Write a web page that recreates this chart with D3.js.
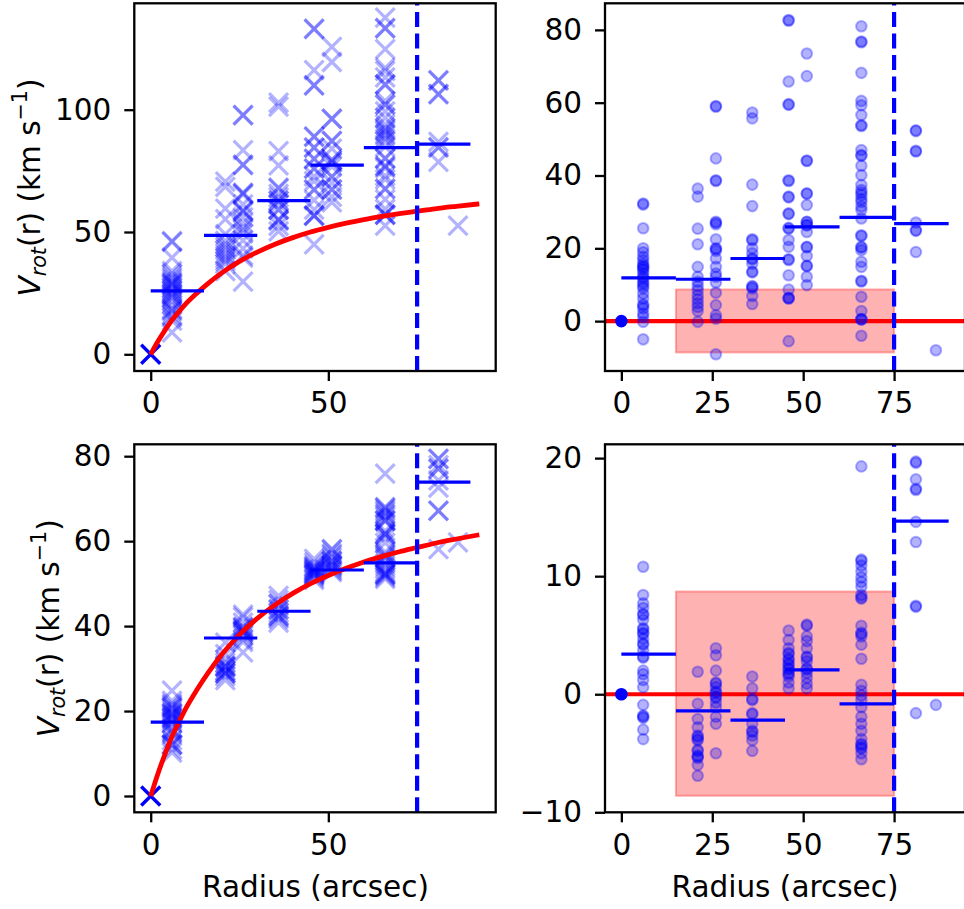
<!DOCTYPE html>
<html><head><meta charset="utf-8">
<script src="https://cdn.jsdelivr.net/npm/d3@7"></script>
<style>
body{margin:0;background:#fff;}
svg text{font-family:"DejaVu Sans",sans-serif;fill:#000;}
</style></head><body>
<svg id="chart" width="964" height="909"></svg>
<script>
// ---------- data ----------
const radii = [6, 21, 26, 36, 46, 51, 66, 81, 86.5];

// top-left: rotation velocity (km/s), one list per radius
const tlVals = [
  [46.3, 46.0, 39.5, 34.0, 32.9, 31.7, 30.8, 29.8, 29.2, 28.9, 28.5, 28.0, 27.1, 26.2, 25.7, 24.8, 24.3, 23.6, 23.0, 21.6, 20.2, 18.6, 18.2, 17.5, 16.1, 15.2, 13.8, 9.0],
  [70.6, 68.4, 59.6, 55.3, 49.1, 46.4, 45.0, 43.8, 42.7, 41.3, 40.2, 39.1, 38.1, 37.0, 34.0],
  [97.9, 97.7, 83.5, 77.5, 77.3, 66.1, 65.8, 65.4, 61.3, 58.8, 58.6, 58.1, 56.0, 53.7, 51.9, 51.0, 49.4, 46.6, 43.2, 40.4, 39.5, 29.7],
  [102.9, 101.3, 83.1, 77.2, 68.1, 67.8, 65.6, 64.2, 62.8, 62.6, 61.4, 59.2, 59.0, 55.2, 55.0, 54.6, 52.5, 50.3],
  [133.1, 132.9, 116.2, 110.0, 109.8, 89.1, 88.9, 84.6, 84.4, 80.0, 79.8, 76.0, 75.8, 72.7, 70.8, 67.4, 67.2, 63.0, 59.1, 56.8, 56.7, 56.6, 44.9],
  [125.7, 119.5, 96.3, 96.2, 87.3, 87.2, 84.1, 79.5, 79.4, 78.6, 78.5, 76.7, 72.6, 72.5, 70.1, 67.4, 67.3, 64.4, 62.1],
  [137.6, 133.4, 133.2, 124.8, 117.1, 115.9, 113.2, 110.4, 110.2, 103.6, 102.2, 102.0, 99.3, 96.7, 94.0, 92.6, 91.9, 91.2, 90.1, 89.4, 88.1, 87.1, 84.8, 80.2, 80.0, 77.0, 76.8, 76.1, 72.9, 71.5, 67.7, 67.5, 63.3, 59.4, 57.2, 57.1, 57.0, 52.6],
  [112.1, 111.9, 106.5, 106.3, 86.8, 84.7, 84.5, 78.7],
  [52.6]
];
// top-right: residuals (km/s)
const trVals = [
  [32.3, 32.0, 25.5, 20.0, 18.9, 17.7, 16.8, 15.8, 15.2, 14.9, 14.5, 14.0, 13.1, 12.2, 11.7, 10.8, 10.3, 9.6, 9.0, 7.6, 6.2, 4.6, 4.2, 3.5, 2.1, 1.2, -0.2, -5.0],
  [36.4, 34.2, 25.4, 21.1, 14.9, 12.2, 10.8, 9.6, 8.5, 7.1, 6.0, 4.9, 3.9, 2.8, -0.2],
  [59.1, 58.9, 44.7, 38.7, 38.5, 27.3, 27.0, 26.6, 22.5, 20.0, 19.8, 19.3, 17.2, 14.9, 13.1, 12.2, 10.6, 7.8, 4.4, 1.6, 0.7, -9.1],
  [57.3, 55.7, 37.5, 31.6, 22.5, 22.2, 20.0, 18.6, 17.2, 17.0, 15.8, 13.6, 13.4, 9.6, 9.4, 9.0, 6.9, 4.7],
  [82.7, 82.5, 65.8, 59.6, 59.4, 38.7, 38.5, 34.2, 34.0, 29.6, 29.4, 25.6, 25.4, 22.3, 20.4, 17.0, 16.8, 12.6, 8.7, 6.4, 6.3, 6.2, -5.5],
  [73.5, 67.3, 44.1, 44.0, 35.1, 35.0, 31.9, 27.3, 27.2, 26.4, 26.3, 24.5, 20.4, 20.3, 17.9, 15.2, 15.1, 12.2, 9.9],
  [81.0, 76.8, 76.6, 68.2, 60.5, 59.3, 56.6, 53.8, 53.6, 47.0, 45.6, 45.4, 42.7, 40.1, 37.4, 36.0, 35.3, 34.6, 33.5, 32.8, 31.5, 30.5, 28.2, 23.6, 23.4, 20.4, 20.2, 19.5, 16.3, 14.9, 11.1, 10.9, 6.7, 2.8, 0.6, 0.5, 0.4, -4.0],
  [52.4, 52.2, 46.8, 46.6, 27.1, 25.0, 24.8, 19.0],
  [-8.0]
];
// bottom-left: rotation velocity (km/s)
const blVals = [
  [24.8, 22.4, 21.7, 21.3, 20.8, 20.7, 20.3, 19.6, 19.5, 19.2, 19.1, 18.7, 18.3, 18.2, 17.7, 17.2, 17.1, 16.0, 15.7, 15.2, 14.6, 13.1, 12.2, 12.1, 12.0, 11.0, 10.2],
  [36.1, 33.4, 32.1, 31.4, 30.7, 30.6, 30.4, 30.3, 29.5, 29.4, 29.0, 28.9, 28.8, 28.2, 27.3],
  [42.7, 42.1, 40.8, 39.8, 39.7, 39.4, 39.0, 38.9, 38.6, 38.5, 38.1, 37.7, 36.9, 36.3, 33.8],
  [47.1, 46.1, 45.2, 45.1, 44.0, 43.9, 43.1, 42.5, 42.4, 42.1, 41.7, 40.8],
  [55.8, 55.0, 54.3, 53.9, 53.8, 53.4, 53.3, 53.0, 52.9, 52.6, 52.5, 52.2, 52.1, 51.9, 51.4, 50.9],
  [58.1, 58.0, 57.1, 56.7, 56.1, 55.4, 55.3, 55.0, 54.4, 54.3, 54.0, 53.6, 53.1, 52.7],
  [75.9, 68.0, 67.9, 67.5, 67.0, 66.5, 66.1, 65.7, 65.0, 64.8, 64.7, 62.4, 61.8, 61.7, 61.5, 60.8, 59.6, 57.4, 56.9, 56.5, 56.1, 55.5, 54.7, 54.1, 53.5, 52.8, 52.4, 52.3, 52.1, 52.0, 51.6, 51.1],
  [79.4, 79.3, 77.9, 77.1, 77.0, 74.3, 72.6, 67.2, 67.1, 58.1],
  [59.7]
];
// bottom-right: residuals (km/s)
const brVals = [
  [10.8, 8.4, 7.7, 7.3, 6.8, 6.7, 6.3, 5.6, 5.5, 5.2, 5.1, 4.7, 4.3, 4.2, 3.7, 3.2, 3.1, 2.0, 1.7, 1.2, 0.6, -0.9, -1.8, -1.9, -2.0, -3.0, -3.8],
  [1.9, -0.8, -2.1, -2.8, -3.5, -3.6, -3.8, -3.9, -4.7, -4.8, -5.2, -5.3, -5.4, -6.0, -6.9],
  [3.9, 3.3, 2.0, 1.0, 0.9, 0.6, 0.2, 0.1, -0.2, -0.3, -0.7, -1.1, -1.9, -2.5, -5.0],
  [1.5, 0.5, -0.4, -0.5, -1.6, -1.7, -2.5, -3.1, -3.2, -3.5, -3.9, -4.8],
  [5.4, 4.6, 3.9, 3.5, 3.4, 3.0, 2.9, 2.6, 2.5, 2.2, 2.1, 1.8, 1.7, 1.5, 1.0, 0.5],
  [5.9, 5.8, 4.9, 4.5, 3.9, 3.2, 3.1, 2.8, 2.2, 2.1, 1.8, 1.4, 0.9, 0.5],
  [19.3, 11.4, 11.3, 10.9, 10.4, 9.9, 9.5, 9.1, 8.4, 8.2, 8.1, 5.8, 5.2, 5.1, 4.9, 4.2, 3.0, 0.8, 0.3, -0.1, -0.5, -1.1, -1.9, -2.5, -3.1, -3.8, -4.2, -4.3, -4.5, -4.6, -5.0, -5.5],
  [19.7, 19.6, 18.2, 17.4, 17.3, 14.6, 12.9, 7.5, 7.4, -1.6],
  [-0.9]
];

// model rotation curve (red)
const curveR = [0, 2, 4, 6, 8, 10, 13, 16, 20, 25, 30, 35, 40, 45, 50, 55, 60, 66, 70, 75, 80, 86, 92.5];
const curveV = [0, 5.2, 9.8, 14.0, 17.5, 20.8, 25.0, 28.8, 33.3, 38.0, 41.8, 45.0, 47.7, 50.0, 51.9, 53.6, 55.1, 56.6, 57.5, 58.5, 59.5, 60.5, 61.5];

// binned means (horizontal blue segments)
const binEdges = [0, 15, 30, 45, 60, 75, 90];
const tlBins = [25.9, 48.6, 62.8, 77.3, 84.5, 85.9];
const trBins = [11.9, 11.5, 17.2, 25.9, 28.5, 26.8];
const blBins = [17.4, 37.2, 43.5, 53.2, 54.9, 73.9];
const brBins = [3.39, -1.41, -2.2, 2.06, -0.82, 14.66];

// shaded region & cut radius
const boxR = [15, 75];
const boxV = [-8.6, 8.7];
const cutRadius = 75;
const origin = [0, 0];

// ticks
const xTicksLeft = [0, 50];
const xTicksRight = [0, 25, 50, 75];
const yTicksTL = [0, 50, 100];
const yTicksTR = [0, 20, 40, 60, 80];
const yTicksBL = [0, 20, 40, 60, 80];
const yTicksBR = [-10, 0, 10, 20];

const xLabel = "Radius (arcsec)";

// ---------- drawing ----------
const FS = 29.5;
const BLUE = "#0000ff", RED = "#ff0000";
const svg = d3.select("#chart");
svg.append("rect").attr("width", 964).attr("height", 909).attr("fill", "#fff");
const defs = svg.append("defs");

const panels = [
  {id:"tl", left:134.3, right:495.7, top:3.3, bottom:371, xDom:[-4.62, 97.12], yDom:[-6.83, 143.5], kind:"cross", vals:tlVals, bins:tlBins, xTicks:xTicksLeft, yTicks:yTicksTL},
  {id:"tr", left:605, right:965, top:3.3, bottom:371, xDom:[-4.5, 94.5], yDom:[-13.7, 87.3], kind:"dot", vals:trVals, bins:trBins, xTicks:xTicksRight, yTicks:yTicksTR},
  {id:"bl", left:134.3, right:495.7, top:444.3, bottom:812.3, xDom:[-4.62, 97.12], yDom:[-3.84, 82.8], kind:"cross", vals:blVals, bins:blBins, xTicks:xTicksLeft, yTicks:yTicksBL},
  {id:"br", left:605, right:965, top:444.3, bottom:812.3, xDom:[-4.5, 94.5], yDom:[-10.0, 21.17], kind:"dot", vals:brVals, bins:brBins, xTicks:xTicksRight, yTicks:yTicksBR}
];

function crossPath(cx, cy, h) {
  return `M${cx-h},${cy-h}L${cx+h},${cy+h}M${cx-h},${cy+h}L${cx+h},${cy-h}`;
}

panels.forEach(p => {
  const x = d3.scaleLinear().domain(p.xDom).range([p.left, p.right]);
  const y = d3.scaleLinear().domain(p.yDom).range([p.bottom, p.top]);
  defs.append("clipPath").attr("id", "clip-" + p.id)
    .append("rect").attr("x", p.left).attr("y", p.top)
    .attr("width", p.right - p.left).attr("height", p.bottom - p.top);
  const g = svg.append("g");
  const plot = g.append("g").attr("clip-path", `url(#clip-${p.id})`);

  const pts = [];
  radii.forEach((r, i) => p.vals[i].forEach(v => pts.push([r, v])));

  if (p.kind === "cross") {
    plot.selectAll("path.pt").data(pts).join("path").attr("class", "pt")
      .attr("d", d => crossPath(x(d[0]), y(d[1]), 9.5))
      .attr("fill", "none").attr("stroke", BLUE).attr("stroke-opacity", 0.3).attr("stroke-width", 3.2);
    plot.append("path").attr("d", crossPath(x(origin[0]), y(origin[1]), 9.5))
      .attr("fill", "none").attr("stroke", BLUE).attr("stroke-width", 3.4);
    const line = d3.line().x((d, i) => x(curveR[i])).y(d => y(d)).curve(d3.curveMonotoneX);
    plot.append("path").attr("d", line(curveV)).attr("fill", "none")
      .attr("stroke", RED).attr("stroke-width", 4.8).attr("stroke-linecap", "butt");
  } else {
    plot.append("rect").attr("x", x(boxR[0])).attr("y", y(boxV[1]))
      .attr("width", x(boxR[1]) - x(boxR[0])).attr("height", y(boxV[0]) - y(boxV[1]))
      .attr("fill", RED).attr("fill-opacity", 0.3)
      .attr("stroke", RED).attr("stroke-opacity", 0.3).attr("stroke-width", 2);
    plot.append("line").attr("x1", p.left).attr("x2", p.right)
      .attr("y1", y(0)).attr("y2", y(0)).attr("stroke", RED).attr("stroke-width", 4.2);
    plot.selectAll("circle.pt").data(pts).join("circle").attr("class", "pt")
      .attr("cx", d => x(d[0])).attr("cy", d => y(d[1])).attr("r", 5.3)
      .attr("fill", BLUE).attr("fill-opacity", 0.3)
      .attr("stroke", BLUE).attr("stroke-opacity", 0.3).attr("stroke-width", 2);
    plot.append("circle").attr("cx", x(origin[0])).attr("cy", y(origin[1])).attr("r", 6.3).attr("fill", BLUE);
  }

  // binned means
  plot.selectAll("line.bin").data(p.bins).join("line").attr("class", "bin")
    .attr("x1", (d, i) => x(binEdges[i])).attr("x2", (d, i) => x(binEdges[i + 1]))
    .attr("y1", d => y(d)).attr("y2", d => y(d))
    .attr("stroke", BLUE).attr("stroke-width", 3.2);

  // cut radius dashed line (drawn bottom to top)
  plot.append("line").attr("x1", x(cutRadius)).attr("x2", x(cutRadius))
    .attr("y1", p.bottom).attr("y2", p.top)
    .attr("stroke", BLUE).attr("stroke-width", 4.2).attr("stroke-dasharray", "15,6.5");

  // frame
  g.append("rect").attr("x", p.left).attr("y", p.top)
    .attr("width", p.right - p.left).attr("height", p.bottom - p.top)
    .attr("fill", "none").attr("stroke", "#000").attr("stroke-width", 2.3);

  // axes
  const ax = g.append("g").attr("transform", `translate(0,${p.bottom})`)
    .call(d3.axisBottom(x).tickValues(p.xTicks).tickSize(10).tickPadding(11.5).tickFormat(d3.format("d")));
  const ay = g.append("g").attr("transform", `translate(${p.left},0)`)
    .call(d3.axisLeft(y).tickValues(p.yTicks).tickSize(10).tickPadding(13).tickFormat(d3.format("d")));
  [ax, ay].forEach(a => {
    a.attr("font-size", null).attr("font-family", null);
    a.select(".domain").remove();
    a.selectAll(".tick line").attr("stroke", "#000").attr("stroke-width", 2.3);
    a.selectAll(".tick text").attr("font-size", FS).attr("fill", "#000");
  });
});

// x labels
[[315.5, 897], [785, 897]].forEach(([cx, cy]) => {
  svg.append("text").attr("x", cx).attr("y", cy).attr("text-anchor", "middle")
    .attr("font-size", FS).text(xLabel);
});

// y labels
function yLabel(bx, cy) {
  const t = svg.append("text").attr("transform", `translate(${bx},${cy}) rotate(-90)`)
    .attr("text-anchor", "middle").attr("font-size", FS);
  t.append("tspan").attr("font-style", "italic").text("V");
  t.append("tspan").attr("font-style", "italic").attr("font-size", FS * 0.7).attr("dy", FS * 0.22).text("rot");
  t.append("tspan").attr("dy", -FS * 0.22).text("(r) (km s");
  t.append("tspan").attr("font-size", FS * 0.7).attr("dy", -FS * 0.42).text("\u22121");
  t.append("tspan").attr("dy", FS * 0.42).text(")");
}
yLabel(39.5, 187.5);
yLabel(58.5, 628.3);
</script>
</body></html>
